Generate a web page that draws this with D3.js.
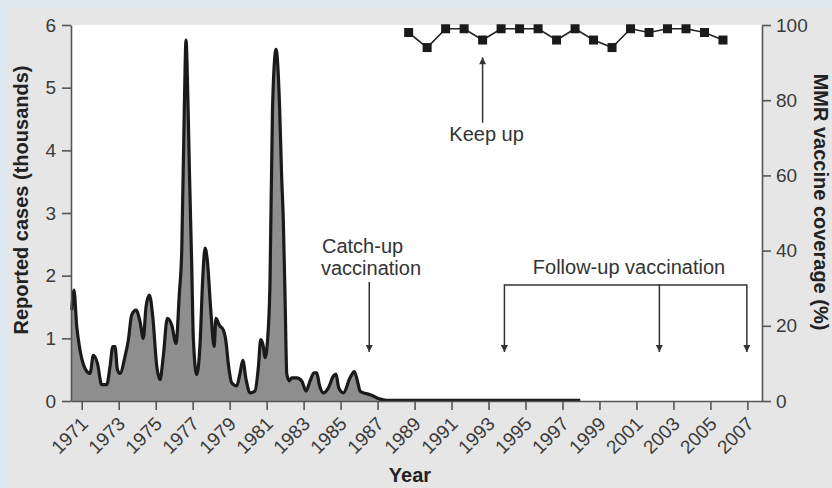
<!DOCTYPE html>
<html>
<head>
<meta charset="utf-8">
<script src="https://cdn.jsdelivr.net/npm/d3@7"></script>
<style>
  html, body { margin: 0; padding: 0; background: #dfe9f2; }
  svg { display: block; font-family: "Liberation Sans", Arial, Helvetica, sans-serif; }
</style>
</head>
<body>
<svg id="chart" width="832" height="488"></svg>
<script>
// ---- Data ----
// Reported measles cases (thousands): [decimal year, value]
const caseYears = [1970.46,1970.58,1970.73,1970.91,1971.18,1971.45,1971.63,1971.85,1972.08,1972.35,
  1972.53,1972.68,1972.80,1972.93,1973.07,1973.34,1973.52,1973.70,1973.94,1974.15,
  1974.33,1974.48,1974.66,1974.84,1975.06,1975.23,1975.41,1975.63,1975.87,1976.10,
  1976.28,1976.41,1976.55,1976.64,1976.75,1976.83,1976.95,1977.04,1977.22,1977.40,
  1977.54,1977.67,1977.79,1977.98,1978.16,1978.26,1978.44,1978.66,1978.80,1978.93,
  1979.11,1979.38,1979.56,1979.71,1979.89,1980.10,1980.37,1980.55,1980.68,1980.82,
  1980.91,1981.06,1981.18,1981.32,1981.51,1981.70,1981.81,1981.90,1982.00,1982.09,
  1982.23,1982.36,1982.63,1982.90,1983.13,1983.35,1983.56,1983.71,1983.85,1984.07,
  1984.34,1984.61,1984.75,1984.90,1985.15,1985.51,1985.74,1985.91,1986.05,1986.23,
  1986.50,1986.77,1987.04,1987.31,1987.60,1997.96];
const caseValues = [1.45,1.77,1.19,0.81,0.52,0.44,0.73,0.60,0.26,0.26,
  0.55,0.87,0.87,0.50,0.44,0.71,0.97,1.37,1.45,1.27,
  1.00,1.51,1.69,1.35,0.55,0.34,0.71,1.32,1.21,0.92,
  1.72,2.41,4.70,5.76,4.70,3.60,2.15,0.97,0.42,0.92,
  1.93,2.44,2.25,1.45,0.87,1.32,1.21,1.13,0.95,0.59,
  0.29,0.24,0.44,0.65,0.34,0.13,0.16,0.53,0.98,0.87,
  0.69,1.01,1.86,4.70,5.61,4.70,3.60,2.90,1.60,0.43,
  0.32,0.37,0.37,0.32,0.16,0.32,0.45,0.45,0.26,0.13,
  0.21,0.40,0.43,0.21,0.13,0.37,0.47,0.32,0.16,0.13,
  0.11,0.08,0.04,0.02,0.01,0.01];

// MMR vaccine coverage (%) by year
const coverageYears = [1988,1989,1990,1991,1992,1993,1994,1995,1996,1997,1998,1999,2000,2001,2002,2003,2004,2005];
const coverageValues = [98,94,99,99,96,99,99,99,96,99,96,94,99,98,99,99,98,96];

// Axis ticks
const yearTicks = [1971,1973,1975,1977,1979,1981,1983,1985,1987,1989,1991,1993,1995,1997,1999,2001,2003,2005,2007];
const caseTicks = [0,1,2,3,4,5,6];
const coverageTicks = [0,20,40,60,80,100];

// Annotations (years)
const catchUpYear = 1986.55;
const followUpYears = [1993.86, 2002.24, 2006.97];
const keepUpYear = 1992;

// ---- Layout ----
const svg = d3.select("#chart");
const L = 71, R = 762, T = 25, B = 401;
const midYear = 0.68;

const x = d3.scaleLinear().domain([1970.42, 2007.79]).range([L, R]);
const y = d3.scaleLinear().domain([0, 6]).range([B, T]);
const y2 = d3.scaleLinear().domain([0, 100]).range([B, T]);

// Panels
svg.append("rect").attr("x", 7).attr("y", 8).attr("width", 825).attr("height", 480).attr("fill", "#e6e6e6");
svg.append("rect").attr("x", L).attr("y", T).attr("width", R - L).attr("height", B - T).attr("fill", "#ffffff");

// Defs: arrowhead
const defs = svg.append("defs");
defs.append("marker").attr("id", "arr").attr("viewBox", "0 0 10 10")
  .attr("refX", 10).attr("refY", 5).attr("markerWidth", 12).attr("markerHeight", 7)
  .attr("markerUnits", "userSpaceOnUse").attr("orient", "auto")
  .append("path").attr("d", "M0,0 L10,5 L0,10 Z").attr("fill", "#333");

// Cases area + line
const cases = caseYears.map((yr, i) => ({ yr, v: caseValues[i] }));
const area = d3.area().curve(d3.curveMonotoneX).x(d => x(d.yr)).y0(y(0)).y1(d => y(d.v));
const line = d3.line().curve(d3.curveMonotoneX).x(d => x(d.yr)).y(d => y(d.v));
svg.append("path").datum(cases).attr("d", area).attr("fill", "#8e8e8e");
svg.append("path").datum(cases).attr("d", line).attr("fill", "none")
  .attr("stroke", "#1a1a1a").attr("stroke-width", 3.2).attr("stroke-linejoin", "round");

// Coverage line + squares
const cov = coverageYears.map((yr, i) => ({ yr, v: coverageValues[i] }));
svg.append("path").datum(cov)
  .attr("d", d3.line().x(d => x(d.yr + midYear)).y(d => y2(d.v)))
  .attr("fill", "none").attr("stroke", "#222").attr("stroke-width", 1.6);
svg.selectAll("rect.sq").data(cov).join("rect").attr("class", "sq")
  .attr("x", d => x(d.yr + midYear) - 4.5).attr("y", d => y2(d.v) - 4.5)
  .attr("width", 9).attr("height", 9).attr("fill", "#1a1a1a");

// Axes
const tickColor = "#555";
const labelColor = "#3a3a3a";
function styleAxis(g) {
  g.selectAll("path.domain").attr("stroke", tickColor).attr("stroke-width", 1.6);
  g.selectAll(".tick line").attr("stroke", tickColor).attr("stroke-width", 1.6);
  g.selectAll(".tick text").attr("fill", labelColor).style("font-size", "19px")
    .style("font-family", "'Liberation Sans', Arial, sans-serif");
}
const gx = svg.append("g").attr("transform", `translate(0,${B})`)
  .call(d3.axisBottom(x).tickValues(yearTicks).tickFormat(d3.format("d")).tickSize(9).tickSizeOuter(0));
styleAxis(gx);
gx.selectAll(".tick text")
  .attr("text-anchor", "end").attr("x", 0).attr("y", 0).attr("dy", 0)
  .attr("transform", "translate(7,24) rotate(-45)");

const gy = svg.append("g").attr("transform", `translate(${L},0)`)
  .call(d3.axisLeft(y).tickValues(caseTicks).tickFormat(d3.format("d")).tickSize(9).tickSizeOuter(0).tickPadding(6));
styleAxis(gy);

const gy2 = svg.append("g").attr("transform", `translate(${R},0)`)
  .call(d3.axisRight(y2).tickValues(coverageTicks).tickFormat(d3.format("d")).tickSize(9).tickSizeOuter(0).tickPadding(5));
styleAxis(gy2);

// Axis titles
svg.append("text").attr("transform", `translate(28,200) rotate(-90)`)
  .attr("text-anchor", "middle").attr("font-weight", "bold").attr("font-size", 20)
  .attr("fill", "#222").text("Reported cases (thousands)");
svg.append("text").attr("transform", `translate(814,202) rotate(90)`)
  .attr("text-anchor", "middle").attr("font-weight", "bold").attr("font-size", 20)
  .attr("fill", "#222").text("MMR vaccine coverage (%)");
svg.append("text").attr("x", 410).attr("y", 482)
  .attr("text-anchor", "middle").attr("font-weight", "bold").attr("font-size", 20)
  .attr("fill", "#222").text("Year");

// Annotations
const annColor = "#333";
const annFont = 20;
// Keep up
svg.append("line").attr("x1", x(keepUpYear + midYear)).attr("x2", x(keepUpYear + midYear))
  .attr("y1", y2(74)).attr("y2", y2(91.4))
  .attr("stroke", annColor).attr("stroke-width", 1.5).attr("marker-end", "url(#arr)");
svg.append("text").attr("x", x(keepUpYear + midYear) + 4).attr("y", 141)
  .attr("text-anchor", "middle").attr("font-size", annFont).attr("fill", annColor).text("Keep up");

// Catch-up
svg.append("text").attr("x", 322).attr("y", 253).attr("font-size", annFont).attr("fill", annColor).text("Catch-up");
svg.append("text").attr("x", 321).attr("y", 275).attr("font-size", annFont).attr("fill", annColor).text("vaccination");
svg.append("line").attr("x1", x(catchUpYear)).attr("x2", x(catchUpYear))
  .attr("y1", 282).attr("y2", 352)
  .attr("stroke", annColor).attr("stroke-width", 1.5).attr("marker-end", "url(#arr)");

// Follow-up
svg.append("text").attr("x", 629).attr("y", 274).attr("text-anchor", "middle")
  .attr("font-size", annFont).attr("fill", annColor).text("Follow-up vaccination");
svg.append("line").attr("x1", x(followUpYears[0])).attr("x2", x(followUpYears[2]))
  .attr("y1", 285).attr("y2", 285).attr("stroke", annColor).attr("stroke-width", 1.5);
followUpYears.forEach(fy => {
  svg.append("line").attr("x1", x(fy)).attr("x2", x(fy))
    .attr("y1", 284.25).attr("y2", 352)
    .attr("stroke", annColor).attr("stroke-width", 1.5).attr("marker-end", "url(#arr)");
});
</script>
</body>
</html>
